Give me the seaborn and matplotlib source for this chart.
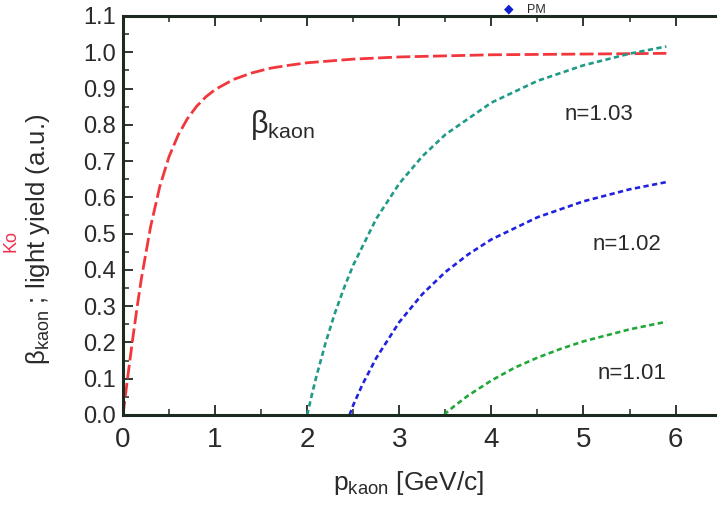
import matplotlib
matplotlib.use("Agg")
import matplotlib.pyplot as plt
import numpy as np
import pandas as pd
import seaborn as sns

# kaon velocity beta vs momentum
p_beta = [0.0, 0.05, 0.1, 0.15, 0.2, 0.3, 0.4, 0.5, 0.6, 0.7, 0.8, 0.9, 1.0,
          1.2, 1.4, 1.6, 1.8, 2.0, 2.5, 3.0, 3.5, 4.0, 4.5, 5.0, 5.5, 5.9]
beta_kaon = [0.0, 0.101, 0.199, 0.291, 0.376, 0.519, 0.630, 0.712, 0.772, 0.817,
             0.851, 0.877, 0.897, 0.925, 0.943, 0.956, 0.964, 0.971, 0.981, 0.987,
             0.990, 0.993, 0.994, 0.995, 0.996, 0.997]

# light yield curves for three aerogel indices
p_n103 = [2.0, 2.05, 2.1, 2.2, 2.3, 2.4, 2.5, 2.75, 3.0, 3.25, 3.5, 4.0, 4.5, 5.0, 5.5, 5.9]
yield_n103 = [0.0, 0.055, 0.106, 0.199, 0.280, 0.350, 0.413, 0.541, 0.638, 0.713,
              0.773, 0.861, 0.921, 0.964, 0.996, 1.016]

p_n102 = [2.46, 2.5, 2.6, 2.75, 3.0, 3.25, 3.5, 3.75, 4.0, 4.5, 5.0, 5.5, 5.9]
yield_n102 = [0.0, 0.027, 0.084, 0.157, 0.256, 0.333, 0.394, 0.443, 0.484, 0.545,
              0.589, 0.622, 0.642]

p_n101 = [3.49, 3.5, 3.6, 3.75, 4.0, 4.25, 4.5, 4.75, 5.0, 5.5, 5.9]
yield_n101 = [0.0, 0.004, 0.025, 0.054, 0.095, 0.130, 0.158, 0.182, 0.203, 0.236, 0.257]

curve_labels = ["n=1.03", "n=1.02", "n=1.01"]

sns.set_theme(style="ticks")
plt.rcParams["font.family"] = ["Liberation Sans", "DejaVu Sans"]
plt.rcParams["mathtext.fontset"] = "custom"
plt.rcParams["mathtext.rm"] = "Liberation Sans"
plt.rcParams["mathtext.it"] = "Liberation Sans:italic"

axis_col = "#1c2a20"
text_col = "#2a2a2a"

fig = plt.figure(figsize=(7.17, 5.07), dpi=100)
ax = fig.add_axes([0.1715, 0.1815, 0.8285, 0.787])

df_beta = pd.DataFrame({"p": p_beta, "v": beta_kaon})
sns.lineplot(data=df_beta, x="p", y="v", ax=ax, color="#f2373c", lw=2.0, sort=False)
ax.lines[-1].set_dashes([5, 1.6])

curves = [
    (p_n103, yield_n103, "#1f9a86"),
    (p_n102, yield_n102, "#2121e0"),
    (p_n101, yield_n101, "#21a83a"),
]
for p_vals, y_vals, col in curves:
    df = pd.DataFrame({"p": p_vals, "v": y_vals})
    sns.lineplot(data=df, x="p", y="v", ax=ax, color=col, lw=1.9, sort=False)
    ax.lines[-1].set_dashes([2.0, 1.3])

ax.set_xlim(0, 6.45)
ax.set_ylim(0, 1.1)
ax.set_xticks(np.arange(0, 7, 1))
ax.set_xticks(np.arange(0.5, 6.5, 0.5), minor=True)
ax.set_yticks(np.round(np.arange(0, 1.11, 0.1), 1))
ax.set_yticks(np.arange(0.05, 1.1, 0.1), minor=True)
ax.yaxis.set_major_formatter(matplotlib.ticker.FormatStrFormatter("%.1f"))

ax.tick_params(which="both", direction="in", top=True, right=False,
               color=axis_col, labelcolor=text_col)
ax.tick_params(which="major", length=7, width=1.3)
ax.tick_params(which="minor", length=4, width=1.1)
ax.tick_params(axis="y", which="major", labelsize=17, pad=5)
ax.tick_params(axis="x", which="major", labelsize=20, pad=9)

for side in ["left", "bottom", "top"]:
    ax.spines[side].set_color(axis_col)
    ax.spines[side].set_linewidth(2.2)
ax.spines["right"].set_visible(False)

ax.set_xlabel(r"$\mathrm{p_{kaon}}$ [GeV/c]", fontsize=19, color=text_col)
ax.xaxis.set_label_coords(0.48, -0.135)
ax.set_ylabel(r"$\mathrm{β_{kaon}}$ ; light yield (a.u.)", fontsize=18.5, color=text_col)
ax.yaxis.set_label_coords(-0.12, 0.44)

ax.text(1.38, 0.80, r"$\mathrm{β_{kaon}}$", fontsize=22, color=text_col,
        ha="left", va="center")
label_pos = [(4.80, 0.827), (5.10, 0.469), (5.155, 0.113)]
for (tx, ty), txt in zip(label_pos, curve_labels):
    ax.text(tx, ty, txt, fontsize=16, color=text_col, ha="left", va="center")

# fragments of neighbouring panel content at the crop edges
fig.text(0.003, 0.525, "Ko", rotation=90, fontsize=13, color="#f03050",
         ha="left", va="center")
fig.text(0.709, 0.981, "\u25c6", fontsize=9, color="#1020d0", ha="center", va="center")
fig.text(0.735, 0.981, "PM", fontsize=9, color=text_col, ha="left", va="center")

fig.savefig("out.png", dpi=100)
